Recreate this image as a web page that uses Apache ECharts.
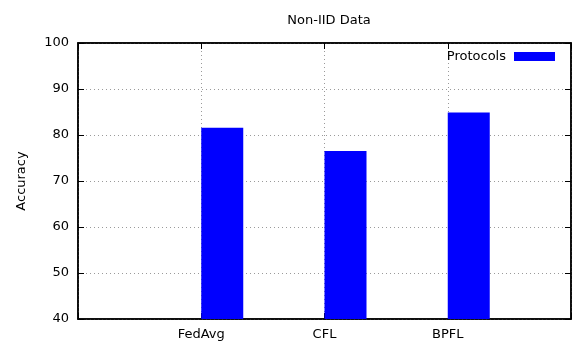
<!DOCTYPE html>
<html>
<head>
<meta charset="utf-8">
<script src="https://cdn.jsdelivr.net/npm/echarts@6/dist/echarts.min.js"></script>
<style>
  html, body { margin: 0; padding: 0; background: #fff; }
  #chart { width: 586px; height: 348px; }
</style>
</head>
<body>
<div id="chart"></div>
<script>
  const protocols = ['FedAvg', 'CFL', 'BPFL'];
  const accuracy = [81.6, 76.5, 84.9];
  const yTicks = { min: 40, max: 100, step: 10 };

  // gnuplot style: one empty slot either side of the categories
  const slots = [''].concat(protocols, ['']);
  const values = [null].concat(accuracy, [null]);
  const font = 'DejaVu Sans';

  const chart = echarts.init(document.getElementById('chart'));

  const dotted = { color: '#9a9a9a', width: 1, type: [1, 3] };

  const option = {
    animation: false,
    backgroundColor: '#fff',
    textStyle: { fontFamily: font },
    title: {
      text: 'Non-IID Data',
      left: 324,
      textAlign: 'center',
      top: 9,
      textStyle: { fontFamily: font, fontSize: 13, fontWeight: 'normal', color: '#000' }
    },
    legend: {
      data: ['Protocols'],
      right: 26,
      top: 45,
      align: 'right',
      itemWidth: 41,
      itemHeight: 9,
      icon: 'rect',
      textStyle: { fontFamily: font, fontSize: 13, color: '#000', padding: [0, 3, 0, 0] }
    },
    grid: {
      left: 78, right: 15, top: 43, bottom: 29,
      show: true, borderColor: '#000', borderWidth: 1.5, backgroundColor: 'transparent'
    },
    xAxis: [
      {
        type: 'category',
        data: slots,
        boundaryGap: false,
        axisLine: { show: true, lineStyle: { color: '#000', width: 1.5 } },
        axisTick: { show: true, inside: true, length: 6, lineStyle: { color: '#000' } },
        axisLabel: { fontFamily: font, fontSize: 13, color: '#000', margin: 9 },
        splitLine: { show: true, lineStyle: dotted }
      },
      {
        type: 'category',
        position: 'top',
        data: slots,
        boundaryGap: false,
        axisLine: { show: true, lineStyle: { color: '#000', width: 1.5 } },
        axisTick: { show: true, inside: true, length: 6, lineStyle: { color: '#000' } },
        axisLabel: { show: false },
        splitLine: { show: false }
      }
    ],
    yAxis: [
      {
        type: 'value',
        min: yTicks.min, max: yTicks.max, interval: yTicks.step,
        name: 'Accuracy',
        nameLocation: 'middle',
        nameGap: 50,
        nameTextStyle: { fontFamily: font, fontSize: 13, color: '#000' },
        axisLine: { show: true, lineStyle: { color: '#000', width: 1.5 } },
        axisTick: { show: true, inside: true, length: 6, lineStyle: { color: '#000' } },
        axisLabel: { fontFamily: font, fontSize: 13, color: '#000', margin: 9 },
        splitLine: { show: true, lineStyle: dotted }
      },
      {
        type: 'value',
        position: 'right',
        min: yTicks.min, max: yTicks.max, interval: yTicks.step,
        axisLine: { show: true, lineStyle: { color: '#000', width: 1.5 } },
        axisTick: { show: true, inside: true, length: 6, lineStyle: { color: '#000' } },
        axisLabel: { show: false },
        splitLine: { show: false }
      }
    ],
    series: [
      {
        // empty spacer so the real bar sits right of the tick
        name: 'pad',
        type: 'bar',
        data: slots.map(() => null),
        barWidth: 42,
        barGap: '0%'
      },
      {
        name: 'Protocols',
        type: 'bar',
        data: values,
        barWidth: 42,
        barGap: '0%',
        itemStyle: { color: '#0000ff' }
      }
    ]
  };

  chart.setOption(option);
</script>
</body>
</html>
